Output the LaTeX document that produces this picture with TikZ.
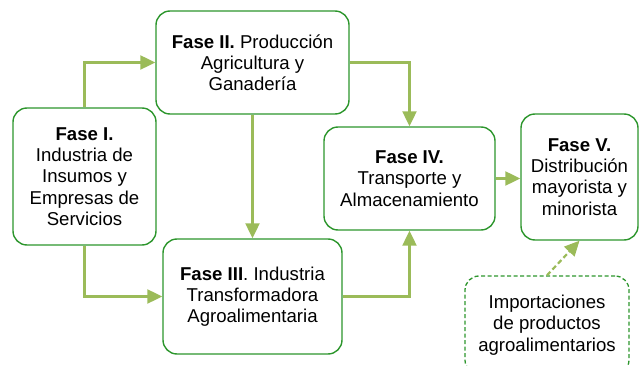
\documentclass[tikz,border=0pt]{standalone}
\usepackage{fontspec}
\setmainfont{Liberation Sans}
\usetikzlibrary{arrows.meta}

\definecolor{boxgreen}{RGB}{45,150,45}
\definecolor{arrowgreen}{RGB}{155,187,89}

\begin{document}
\begin{tikzpicture}[x=1pt,y=-1pt,
                    -{Triangle[length=15pt,width=14pt]},line width=2.2pt,
                    arrowgreen]

  \tikzstyle{fase}=[rectangle,draw=boxgreen,line width=1.4pt,rounded corners=14pt,
                    fill=white,text=black,align=center,inner sep=0pt,
                    font=\fontsize{18.6}{21.2}\selectfont]

  \path[use as bounding box,-] (0,0) rectangle (640,366);
  \clip (0,0) rectangle (640,366);

  \node[fase,minimum width=143pt,minimum height=137pt] (F1) at (84.5,176.5)
       {\textbf{Fase I.}\\Industria de\\Insumos y\\Empresas de\\Servicios};
  \node[fase,minimum width=193pt,minimum height=103pt] (F2) at (252.5,62.5)
       {\textbf{Fase II.} Producción\\Agricultura y\\Ganadería};
  \node[fase,minimum width=179pt,minimum height=115pt] (F3) at (252.5,296.5)
       {\textbf{Fase III}. Industria\\Transformadora\\Agroalimentaria};
  \node[fase,minimum width=171pt,minimum height=103pt] (F4) at (409.5,178.5)
       {\textbf{Fase IV.}\\Transporte y\\Almacenamiento};
  \node[fase,minimum width=117pt,minimum height=126pt] (F5) at (579.5,177)
       {\textbf{Fase V.}\\Distribución\\mayorista y\\minorista};
  \node[fase,dash pattern=on 4pt off 2.5pt,line width=1.3pt,minimum width=164pt,
        minimum height=98pt] (IMP) at (547,325)
       {Importaciones\\de productos\\agroalimentarios};

  \draw (F1.north) |- (F2.west);
  \draw (F1.south) |- (F3.west);
  \draw (F2.south) -- (F3.north);
  \draw (F2.east) -| (F4.north);
  \draw (F3.east) -| (F4.south);
  \draw (F4.east) -- (F4.east -| F5.west);
  \draw[dash pattern=on 5pt off 3pt] (IMP.north) -- (F5.south);
\end{tikzpicture}
\end{document}
